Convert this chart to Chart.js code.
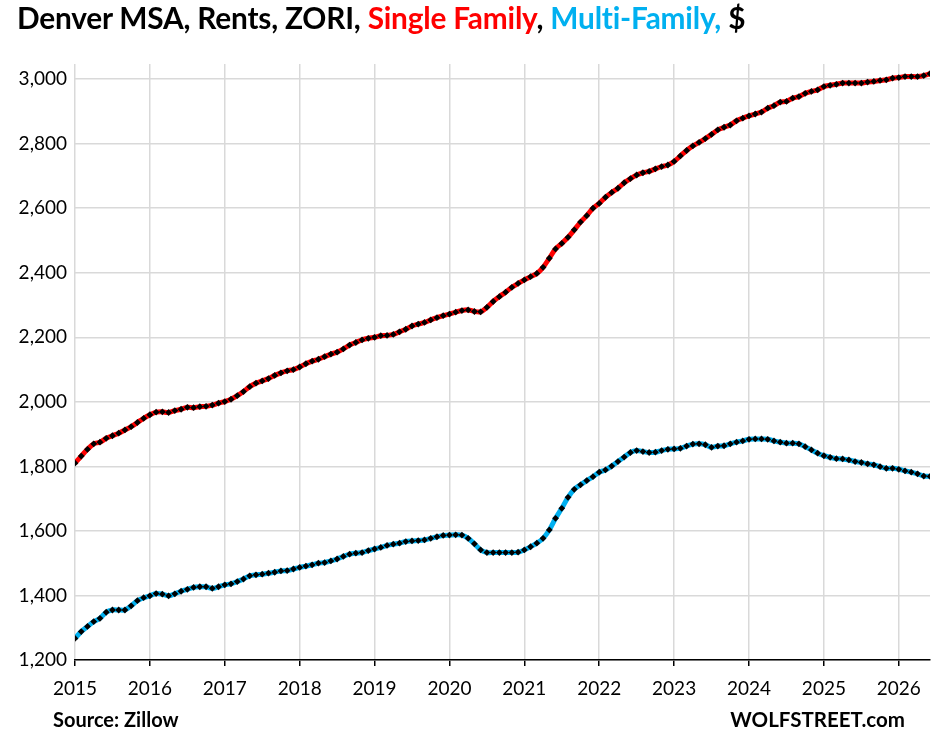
<!DOCTYPE html>
<html>
<head>
<meta charset="utf-8">
<script src="https://cdn.jsdelivr.net/npm/chart.js@4"></script>
<style>
  html, body { margin: 0; padding: 0; background: #fff; }
  #wrap { position: relative; width: 943px; height: 744px; overflow: hidden; }
  #chart { position: absolute; left: 0; top: 0; }
  .txt { position: absolute; font-family: Lato, "Open Sans", sans-serif; font-weight: bold; color: #000; white-space: nowrap; }
  #title { left: 17px; top: 0px; font-size: 29.8px; letter-spacing: -0.2px; }
  #source { left: 53px; top: 707px; font-size: 20px; }
  #brand { right: 38px; top: 707px; font-size: 20.5px; }
  .red { color: #FF0000; }
  .blue { color: #00B0F0; }
</style>
</head>
<body>
<div id="wrap">
  <canvas id="chart" width="943" height="744"></canvas>
  <div id="title" class="txt">Denver MSA, Rents, ZORI, <span class="red">Single Family</span>, <span class="blue">Multi-Family, </span>$</div>
  <div id="source" class="txt">Source: Zillow</div>
  <div id="brand" class="txt">WOLFSTREET.com</div>
</div>
<script>
// ── Data: monthly ZORI, Jan 2015 → Jun 2026 ───────────────────────────────────
const START_YEAR = 2015;
const yearTicks = [2015, 2016, 2017, 2018, 2019, 2020, 2021, 2022, 2023, 2024, 2025, 2026];
const rentTicks = [1200, 1400, 1600, 1800, 2000, 2200, 2400, 2600, 2800, 3000];

const singleFamily = [
  1810, 1832, 1853, 1870, 1875, 1887, 1895, 1903, 1913, 1923, 1936, 1949,
  1960, 1968, 1969, 1967, 1973, 1977, 1983, 1982, 1985, 1986, 1990, 1996,
  2001, 2008, 2019, 2032, 2047, 2058, 2065, 2072, 2082, 2090, 2096, 2100,
  2108, 2118, 2126, 2132, 2140, 2148, 2154, 2164, 2176, 2184, 2192, 2197,
  2200, 2205, 2206, 2209, 2217, 2225, 2235, 2241, 2246, 2254, 2261, 2267,
  2272, 2278, 2283, 2285, 2280, 2279, 2293, 2311, 2326, 2340, 2355, 2367,
  2378, 2388, 2398, 2417, 2445, 2474, 2491, 2510, 2533, 2557, 2577, 2600,
  2615, 2634, 2649, 2662, 2679, 2692, 2703, 2710, 2714, 2722, 2729, 2734,
  2745, 2762, 2779, 2793, 2804, 2816, 2829, 2843, 2851, 2858, 2871, 2879,
  2886, 2892, 2898, 2910, 2918, 2929, 2931, 2941, 2946, 2956, 2962, 2967,
  2977, 2981, 2984, 2988, 2988, 2988, 2988, 2991, 2993, 2996, 2998, 3003,
  3005, 3008, 3008, 3008, 3011, 3017
];

const multiFamily = [
  1267, 1288, 1304, 1319, 1329, 1348, 1355, 1355, 1355, 1368, 1384, 1393,
  1399, 1406, 1404, 1399, 1405, 1413, 1419, 1425, 1427, 1427, 1422, 1427,
  1433, 1436, 1443, 1451, 1461, 1464, 1466, 1469, 1472, 1476, 1477, 1482,
  1487, 1491, 1495, 1500, 1502, 1507, 1513, 1521, 1528, 1531, 1533, 1539,
  1544, 1549, 1555, 1559, 1562, 1567, 1569, 1570, 1572, 1577, 1582, 1586,
  1587, 1588, 1587, 1577, 1560, 1541, 1533, 1533, 1533, 1533, 1533, 1534,
  1541, 1551, 1562, 1577, 1603, 1639, 1670, 1704, 1729, 1743, 1756, 1768,
  1782, 1789, 1801, 1815, 1829, 1843, 1849, 1846, 1843, 1844, 1849, 1853,
  1854, 1856, 1863, 1869, 1870, 1867, 1859, 1863, 1864, 1870, 1875, 1879,
  1884, 1885, 1885, 1884, 1879, 1875, 1872, 1872, 1870, 1861, 1851, 1841,
  1833, 1828, 1824, 1823, 1820, 1815, 1812, 1808, 1805, 1799, 1794, 1794,
  1791, 1786, 1782, 1777, 1770, 1769
];

const toPoints = vals => vals.map((v, i) => ({ x: START_YEAR + i / 12, y: v }));
const lastX = START_YEAR + (singleFamily.length - 1) / 12;

// ── Chart ─────────────────────────────────────────────────────────────────────

const lineStyle = {
  borderWidth: 5,
  tension: 0.3,
  pointRadius: 3.4,
  pointStyle: 'rectRot',
  pointBackgroundColor: '#000',
  pointBorderWidth: 0,
  fill: false
};

new Chart(document.getElementById('chart').getContext('2d'), {
  type: 'line',
  data: {
    datasets: [
      { label: 'Single Family', data: toPoints(singleFamily), borderColor: '#FF0000', ...lineStyle },
      { label: 'Multi-Family',  data: toPoints(multiFamily),  borderColor: '#00B0F0', ...lineStyle }
    ]
  },
  options: {
    responsive: false,
    animation: false,
    layout: { padding: { left: 0, right: 13, top: 64, bottom: 0 } },
    plugins: { legend: { display: false }, title: { display: false }, tooltip: { enabled: false } },
    scales: {
      x: {
        type: 'linear',
        min: START_YEAR,
        max: lastX,
        afterFit: s => { s.height = 84; },
        afterBuildTicks: s => { s.ticks = yearTicks.map(v => ({ value: v })); },
        border: { color: '#000', width: 1.5 },
        grid: { color: '#D9D9D9', lineWidth: 1.5, tickColor: '#000', tickLength: 6 },
        ticks: {
          padding: 11,
          color: '#000',
          font: { family: 'Lato, sans-serif', size: 19 },
          callback: v => String(v)
        }
      },
      y: {
        min: 1200,
        max: 3047,
        afterFit: s => { s.width = 75; },
        afterBuildTicks: s => { s.ticks = rentTicks.map(v => ({ value: v })); },
        border: { display: false },
        grid: { color: '#D9D9D9', lineWidth: 1.5, drawTicks: false },
        ticks: {
          padding: 8,
          color: '#000',
          font: { family: 'Lato, sans-serif', size: 19 },
          callback: v => v.toLocaleString('en-US')
        }
      }
    }
  }
});
</script>
</body>
</html>
